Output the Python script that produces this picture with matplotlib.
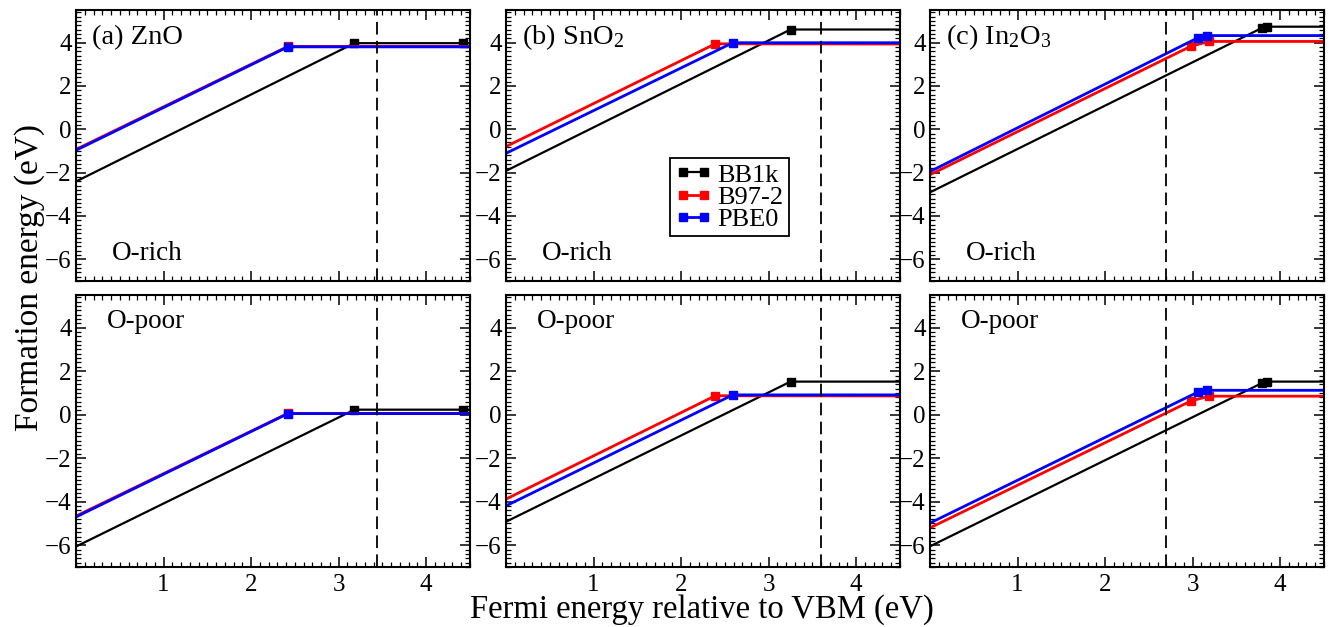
import matplotlib
matplotlib.use("Agg")
import matplotlib.pyplot as plt
from matplotlib.ticker import MultipleLocator, FixedLocator

plt.rcParams['font.family'] = ['Liberation Serif', 'DejaVu Serif']
plt.rcParams['mathtext.fontset'] = 'custom'
plt.rcParams['mathtext.rm'] = 'Liberation Serif'
plt.rcParams['mathtext.it'] = 'Liberation Serif:italic'

# ---------------- data ----------------
materials = ["(a) ZnO", "(b) SnO$_2$", "(c) In$_2$O$_3$"]
band_gaps = [3.44, 3.6, 2.7]
functionals = ["BB1k", "B97-2", "PBE0"]
colors = ["black", "red", "blue"]
conditions = ["O-rich", "O-poor"]

# vertex x-positions (Fermi energy, eV): start, transition levels, end
zno_x = {"BB1k": [0, 3.18, 4.42, 4.5], "B97-2": [0, 2.42, 4.5], "PBE0": [0, 2.42, 4.5]}
sno2_x = {"BB1k": [0, 3.25, 4.5], "B97-2": [0, 2.39, 4.5], "PBE0": [0, 2.59, 4.5]}
in2o3_x = {"BB1k": [0, 3.79, 3.85, 4.5], "B97-2": [0, 2.98, 3.19, 4.5], "PBE0": [0, 3.06, 3.16, 4.5]}

# formation energies (eV) at those vertices
zno_rich_y = {"BB1k": [-2.41, 3.97, 3.97, 3.97], "B97-2": [-0.93, 3.82, 3.82], "PBE0": [-0.97, 3.80, 3.80]}
zno_poor_y = {"BB1k": [-6.06, 0.23, 0.23, 0.23], "B97-2": [-4.66, 0.06, 0.06], "PBE0": [-4.70, 0.05, 0.05]}
sno2_rich_y = {"BB1k": [-1.92, 4.60, 4.60], "B97-2": [-0.80, 3.94, 3.93], "PBE0": [-1.11, 3.99, 3.99]}
sno2_poor_y = {"BB1k": [-4.92, 1.52, 1.52], "B97-2": [-3.88, 0.87, 0.86], "PBE0": [-4.19, 0.91, 0.91]}
in2o3_rich_y = {"BB1k": [-2.91, 4.67, 4.73, 4.73], "B97-2": [-2.10, 3.83, 4.05, 4.05], "PBE0": [-1.95, 4.22, 4.32, 4.32]}
in2o3_poor_y = {"BB1k": [-6.05, 1.45, 1.52, 1.52], "B97-2": [-5.20, 0.63, 0.85, 0.85], "PBE0": [-4.98, 1.04, 1.12, 1.12]}

x_data = [zno_x, sno2_x, in2o3_x]
y_data = [[zno_rich_y, zno_poor_y], [sno2_rich_y, sno2_poor_y], [in2o3_rich_y, in2o3_poor_y]]

y_ticks = [-6, -4, -2, 0, 2, 4]
x_ticks = [1, 2, 3, 4]

# ---------------- figure ----------------
W, H = 1331, 627
fig = plt.figure(figsize=(W / 100, H / 100), dpi=100)

col_left = [76, 506, 930]
col_width = 394
row_top = [10, 295]
row_height = [271, 272]

for c in range(3):
    for r in range(2):
        l = col_left[c] / W
        b = (H - row_top[r] - row_height[r]) / H
        ax = fig.add_axes([l, b, col_width / W, row_height[r] / H])
        handles = []
        for f, col in zip(functionals, colors):
            xs = x_data[c][f]
            ys = y_data[c][r][f]
            lw = 1.6 if col == "black" else 2.0
            h, = ax.plot(xs, ys, color=col, lw=lw, marker='s', ms=5.5,
                         markevery=slice(1, len(xs) - 1), label=f,
                         solid_joinstyle='miter')
            handles.append(h)
        ax.axvline(band_gaps[c], color='black', lw=1.3, ls=(0, (7, 3.5)))
        ax.set_xlim(0, 4.5)
        ax.set_ylim(-7, 5.5)
        ax.xaxis.set_major_locator(FixedLocator(x_ticks))
        ax.xaxis.set_minor_locator(MultipleLocator(0.1))
        ax.yaxis.set_major_locator(FixedLocator(y_ticks))
        ax.yaxis.set_minor_locator(MultipleLocator(0.2))
        ax.tick_params(which='both', direction='in', top=True, right=True)
        ax.tick_params(which='major', length=7, width=1.1, labelsize=18, pad=3)
        ax.tick_params(which='minor', length=3.5, width=0.9)
        ax.tick_params(axis='x', which='major', pad=5)
        for s in ax.spines.values():
            s.set_linewidth(1.5)
        if r == 0:
            ax.tick_params(axis='x', labelbottom=False)
            ax.text(0.04, 0.875, materials[c], transform=ax.transAxes,
                    fontsize=20.5, va='baseline', ha='left')
            ax.text(0.09, 0.077, conditions[r], transform=ax.transAxes,
                    fontsize=19.5, va='baseline', ha='left')
        else:
            ax.text(0.078, 0.878, conditions[r], transform=ax.transAxes,
                    fontsize=19.5, va='baseline', ha='left')
        if c == 1 and r == 0:
            leg = ax.legend(handles=handles, loc='upper left',
                            bbox_to_anchor=(0.415, 0.454), fontsize=19,
                            numpoints=2, handlelength=1.4, handletextpad=0.22,
                            labelspacing=-0.05, borderpad=0.2, borderaxespad=0,
                            fancybox=False, framealpha=1, edgecolor='black')
            leg.get_frame().set_linewidth(1.3)

fig.text(30 / W, 1 - 278 / H, "Formation energy (eV)", rotation=90,
         fontsize=24, ha='center', va='center')
fig.text(702 / W, 1 - 618 / H, "Fermi energy relative to VBM (eV)",
         fontsize=23.5, ha='center', va='baseline')

fig.savefig("out.png", dpi=100)
